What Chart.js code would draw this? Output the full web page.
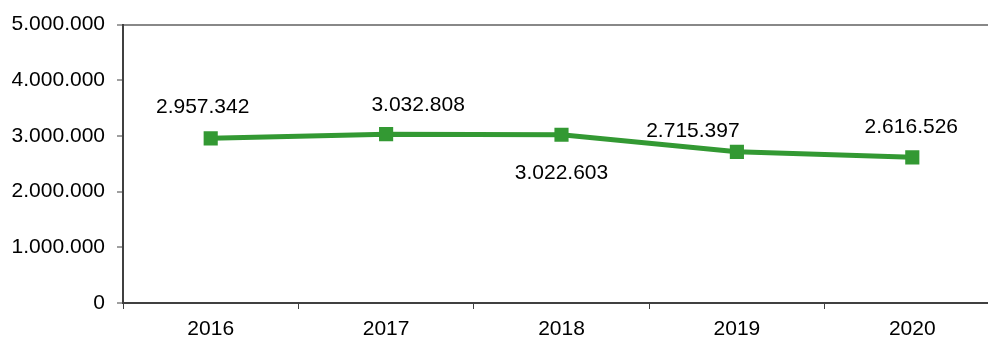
<!DOCTYPE html>
<html>
<head>
<meta charset="utf-8">
<script src="https://cdn.jsdelivr.net/npm/chart.js@4.4.0/dist/chart.umd.min.js"></script>
<style>
  html, body { margin: 0; padding: 0; background: #fff; overflow: hidden; }
  #wrap { width: 988px; height: 338px; overflow: hidden; }
</style>
</head>
<body>
<div id="wrap"><canvas id="canvas-1" width="1010" height="338"></canvas></div>
<script>
// yearly totals
var years = ['2016', '2017', '2018', '2019', '2020'];
var totals = [2957342, 3032808, 3022603, 2715397, 2616526];
var yTicks = [0, 1000000, 2000000, 3000000, 4000000, 5000000];

// where each value label sits relative to its point
var labelOffsets = [[-8, -32], [32, -30], [0, 38], [-44, -22], [-1, -31]];

var green = '#339933';
var font = { family: 'Liberation Sans, Arial, sans-serif', size: 21 };

var fmt = function (v) {
  return String(v).replace(/\B(?=(\d{3})+(?!\d))/g, '.');
};

var valueLabels = {
  id: 'valueLabels',
  afterDatasetsDraw: function (chart) {
    var ctx = chart.ctx;
    var meta = chart.getDatasetMeta(0);
    ctx.save();
    ctx.font = font.size + 'px ' + font.family;
    ctx.fillStyle = '#000';
    ctx.textAlign = 'center';
    ctx.textBaseline = 'middle';
    meta.data.forEach(function (pt, i) {
      var off = labelOffsets[i];
      ctx.fillText(fmt(totals[i]), pt.x + off[0], pt.y + off[1] + 1);
    });
    ctx.restore();
  }
};

var lineChart = new Chart(document.getElementById('canvas-1'), {
  type: 'line',
  data: {
    labels: years,
    datasets: [{
      data: totals,
      borderColor: green,
      backgroundColor: green,
      borderWidth: 5,
      pointStyle: 'rect',
      pointRadius: 10,
      pointBorderWidth: 0,
      pointBackgroundColor: green,
      tension: 0
    }]
  },
  options: {
    responsive: false,
    animation: false,
    layout: { padding: { top: 24, right: 2, left: 0, bottom: 0 } },
    plugins: {
      legend: { display: false },
      tooltip: { enabled: false }
    },
    scales: {
      x: {
        offset: true,
        grid: {
          offset: true,
          drawOnChartArea: false,
          tickLength: 6,
          tickColor: '#404040',
          tickWidth: 1
        },
        border: { color: '#404040', width: 2 },
        ticks: { color: '#000', font: font, padding: 8 },
        afterFit: function (scale) { scale.height = 35; }
      },
      y: {
        min: 0,
        max: 5000000,
        afterBuildTicks: function (scale) {
          scale.ticks = yTicks.map(function (v) { return { value: v }; });
        },
        grid: {
          color: function (c) { return c.tick && c.tick.value === 5000000 ? '#888' : 'rgba(0,0,0,0)'; },
          lineWidth: 2,
          tickLength: 6,
          tickColor: '#404040',
          tickWidth: 1
        },
        border: { color: '#404040', width: 2 },
        ticks: {
          color: '#000',
          font: font,
          padding: 12,
          callback: function (v) { return fmt(v); }
        },
        afterFit: function (scale) { scale.width = 123; }
      }
    }
  },
  plugins: [valueLabels]
});
</script>
</body>
</html>
